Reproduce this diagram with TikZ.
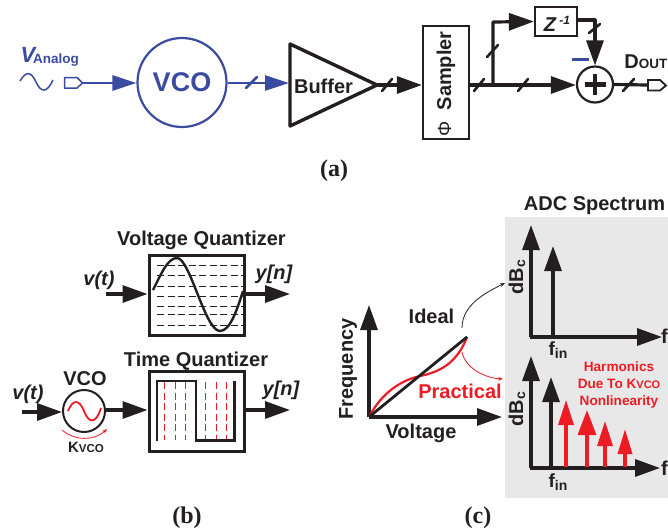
\documentclass[tikz,border=0pt]{standalone}
\usepackage{fontspec}
\setmainfont{Liberation Sans}
\newfontfamily\serifb{Liberation Serif}
\usetikzlibrary{arrows.meta,calc}
\definecolor{vblue}{HTML}{3B4BA0}
\definecolor{ink}{HTML}{231F20}
\definecolor{hred}{HTML}{ED1C24}
\definecolor{panel}{HTML}{E8E8E8}
\tikzset{
  wire/.style={line width=3.2pt,draw=ink},
  arr/.style={wire,-{Triangle[length=25pt,width=17pt]}},
  barr/.style={line width=2.8pt,draw=vblue,-{Triangle[length=24pt,width=15pt]}},
  tick/.style={line width=2.6pt,draw=ink,line cap=round},
  lab/.style={font=\bfseries\fontsize{20}{22}\selectfont,text=ink,inner sep=0pt},
  ilab/.style={font=\bfseries\itshape\fontsize{20}{22}\selectfont,text=ink,inner sep=0pt},
  caption/.style={font=\serifb\bfseries\fontsize{24}{26}\selectfont,text=ink,inner sep=0pt},
  quant/.style={draw=ink,line width=3pt,inner sep=0pt},
  lvl/.style={line width=.9pt,draw=ink,dash pattern=on 7pt off 3.5pt},
  rdash/.style={line width=.9pt,draw=hred,dash pattern=on 7pt off 3.5pt},
  redarr/.style={line width=3.3pt,draw=hred,-{Triangle[length=25pt,width=#1]}},
}
\begin{document}
\begin{tikzpicture}[x=1pt,y=-1pt]
\useasboundingbox (0,0) rectangle (668,531);
% (a)
\node[inner sep=0pt,text=vblue,font=\bfseries\itshape\fontsize{22}{24}\selectfont] (vv) at (28,54.5) {V};
\node[inner sep=0pt,text=vblue,font=\bfseries\fontsize{13.5}{15}\selectfont,anchor=west] (van) at (33,60) {Analog};
\draw[vblue,line width=1.5pt] (20,81) .. controls (26,71) and (31,71) .. (36,82) .. controls (41,93) and (47,93) .. (53,80);
\draw[vblue,line width=1.5pt,fill=white] (64.5,77.5) -- (77,77.5) -- (82.5,83) -- (77,88) -- (64.5,88) -- cycle;
\coordinate (pinr) at (83,83);
\node[circle,draw=vblue,line width=2.2pt,minimum size=89pt,inner sep=0pt,text=vblue,font=\bfseries\fontsize{27}{29}\selectfont] (vco) at (182,82.5) {VCO};
\coordinate (bufin) at (289,83);
\draw[barr] (pinr) -- (vco.west |- pinr);
\draw[barr] (vco.east |- bufin) -- (bufin);
\draw[line width=2.6pt,draw=vblue,line cap=round] (246,88) -- (257,77);
\draw[line width=3.4pt,draw=ink,line join=round] (290,44) -- (377,85) -- (290,126) -- cycle;
\node[lab] (bufl) at (323.5,86) {Buffer};
\coordinate (bufout) at (377,85);
\node[draw=ink,line width=2.2pt,minimum width=46pt,minimum height=113pt,inner sep=0pt] (samp) at (446,82.5) {};
\node[rotate=90,lab] (sampl) at (446,84) {{\mdseries\fontsize{19}{21}\selectfont Φ}\ \ Sampler};
\draw[arr] (bufout) -- (samp.west |- bufout);
\draw[tick] (382,91) -- (392,79);
\coordinate (jn) at (493,85);
\node[circle,draw=ink,line width=2.2pt,minimum size=36pt,inner sep=0pt] (sum) at (595,84.5) {};
\draw[line width=4.4pt,ink] (595,74) -- (595,95) (584.5,84.5) -- (605.5,84.5);
\draw[wire] (samp.east |- jn) -- (jn);
\draw[arr] (jn) -- (sum.west |- jn);
\draw[tick] (474,91) -- (484,79);
\draw[tick] (518,91) -- (528,79);
\node[draw=ink,line width=2.2pt,minimum width=42pt,minimum height=29pt,inner sep=0pt] (zd) at (556,21.5) {};
\node[inner sep=0pt,text=ink,font=\bfseries\itshape\fontsize{20}{22}\selectfont] (zl) at (557,24) {Z\,\raisebox{7pt}{\fontsize{12}{13}\selectfont -1}};
\draw[arr,line join=round] (jn) -- (493,22) -- (zd.west);
\draw[tick] (487,57) -- (498,45);
\draw[arr,line join=round] (zd.east |- 0,20) -- (595,20) -- (sum.north);
\draw[tick] (589,33) -- (600,24);
\draw[vblue,line width=3.5pt] (572,59.5) -- (589,59.5);
\draw[wire] (sum.east) -- (648,85);
\draw[tick] (623,91) -- (634,79);
\draw[ink,line width=1.8pt,fill=white] (648,80) -- (660,80) -- (666,85.5) -- (660,90.5) -- (648,90.5) -- cycle;
\node[lab,anchor=east] (dout) at (667.5,62) {D\fontsize{13.5}{15}\selectfont OUT};
\node[caption] (capa) at (334,171) {(a)};
% (b) voltage quantizer
\node[quant,minimum width=95pt,minimum height=80pt] (vq) at (196.5,295) {};
\node[lab] (vqt) at (201.5,240) {Voltage Quantizer};
\foreach \y in {265,275,286,296,306,314,325} {
  \draw[lvl] (157,\y) -- (243,\y);
}
\draw[ink,line width=2.4pt] (153,290) .. controls (162,272) and (168,258) .. (177,258) .. controls (190,258) and (205,331) .. (220,331) .. controls (230,331) and (237,310) .. (243,291);
\node[ilab] (vt1) at (99,280) {v(t)};
\coordinate (vin1) at (106,294);
\draw[arr] (vin1) -- (vq.west |- vin1);
\coordinate (vout1) at (290,294);
\draw[arr] (vq.east |- vout1) -- (vout1);
\node[ilab] (yn1) at (274,274) {y[n]};
% (b) time quantizer
\node[quant,minimum width=95pt,minimum height=80pt] (tq) at (196.5,411) {};
\node[lab] (tqt) at (196,361) {Time Quantizer};
\foreach \x in {164,175,185,205,216,226} {
  \draw[rdash] (\x,382) -- (\x,440);
}
\draw[ink,line width=2.4pt] (157,441) -- (157,381) -- (196,381) -- (196,440.5) -- (234.5,440.5) -- (234.5,381);
\node[lab] (vcol) at (85,379) {VCO};
\node[circle,draw=ink,line width=2pt,minimum size=42pt,inner sep=0pt] (vcob) at (84,411) {};
\draw[hred,line width=1.8pt] (68,411) .. controls (73,399) and (79,399) .. (84,411) .. controls (89,424) and (96,424) .. (101,408);
\coordinate (vin2) at (22,412);
\node[ilab] (vt2) at (28,394) {v(t)};
\draw[arr] (vin2) -- (vcob.west |- vin2);
\coordinate (vout2) at (290,410);
\draw[arr] (vcob.east |- vout2) -- (tq.west |- vout2);
\draw[arr] (tq.east |- vout2) -- (vout2);
\node[ilab] (yn2) at (281,390) {y[n]};
\draw[hred,line width=.8pt,-{Stealth[length=5pt]}] (62,430) .. controls (75,441) and (94,441) .. (107,429);
\node[lab,font=\bfseries\fontsize{15}{17}\selectfont] (kv) at (86,447) {K\fontsize{11.5}{13}\selectfont VCO};
\node[caption] (capb) at (187,518) {(b)};
% (c)
\node[fill=panel,minimum width=163pt,minimum height=281pt,inner sep=0pt] (pan) at (586.5,357.5) {};
\node[lab] (adc) at (594.5,206) {ADC Spectrum};
\coordinate (o) at (369,417);
\coordinate (ytop) at (369,305);
\coordinate (xend) at (502,417);
\coordinate (ctop) at (467,337);
\draw[arr] (o) -- (ytop);
\draw[arr] (o) -- (xend);
\draw[hred,line width=2.2pt] (o) .. controls (382,392) and (402,380) .. (420,376) .. controls (440,372) and (457,363) .. (ctop);
\draw[ink,line width=2.8pt] (o) -- (ctop);
\node[lab,rotate=90] (freq) at (348,369) {Frequency};
\node[lab] (volt) at (421,433) {Voltage};
\node[lab] (ideal) at (431.5,316) {Ideal};
\node[lab,text=hred] (prac) at (460,391) {Practical};
\draw[ink,line width=.8pt,-{Stealth[length=5pt]}] (462,328) .. controls (462,305) and (485,293) .. (505,283);
\draw[hred,line width=.8pt,-{Stealth[length=5pt]}] (462,352) .. controls (465,368) and (485,378) .. (503,379);
% top spectrum
\coordinate (o1) at (531,337);
\draw[arr] (o1) -- (531,225);
\draw[arr] (529.5,337) -- (662,337);
\draw[arr] (553,337) -- (553,246);
\node[lab,rotate=90] (db1) at (517,277) {dB\raisebox{-2pt}{\fontsize{14}{16}\selectfont c}};
\node[lab,font=\bfseries\fontsize{19}{21}\selectfont] (fin1) at (558,350) {f\raisebox{-3pt}{\fontsize{14}{16}\selectfont in}};
\node[lab,anchor=east] (f1) at (668,336) {f};
% bottom spectrum
\coordinate (o2) at (531,468);
\draw[arr] (o2) -- (531,356);
\draw[arr] (529.5,468) -- (660,468);
\draw[arr] (551,468) -- (551,377);
\draw[redarr=15pt] (566,467) -- (566,400);
\draw[redarr=18pt] (587,467) -- (587,410);
\draw[redarr=15pt] (605,467) -- (605,421);
\draw[redarr=14pt] (625,467) -- (625,429);
\node[lab,rotate=90] (db2) at (517,409) {dB\raisebox{-2pt}{\fontsize{14}{16}\selectfont c}};
\node[lab,font=\bfseries\fontsize{19}{21}\selectfont] (fin2) at (558,482) {f\raisebox{-3pt}{\fontsize{14}{16}\selectfont in}};
\node[lab,anchor=east] (f2) at (668,468) {f};
\node[text=hred,align=center,inner sep=0pt,font=\bfseries\fontsize{13.6}{16.7}\selectfont] (harm) at (619,385) {Harmonics\\Due To K{\fontsize{11}{12}\selectfont VCO}\\Nonlinearity};
\node[caption] (capc) at (478,518) {(c)};
\end{tikzpicture}
\end{document}
